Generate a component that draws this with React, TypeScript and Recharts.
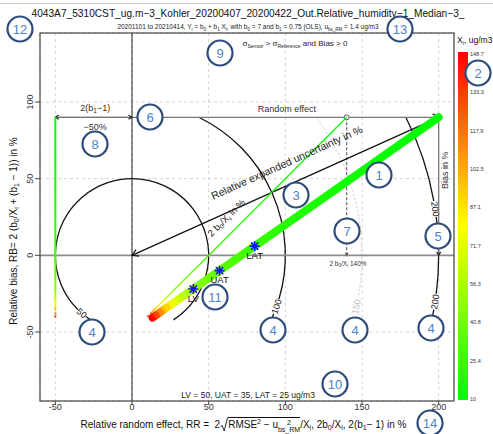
import React from 'react'
import {
  ScatterChart,
  Scatter,
  XAxis,
  YAxis,
  CartesianGrid,
  ReferenceLine,
  ReferenceArea,
  ReferenceDot,
} from 'recharts'

const W = 493
const H = 434
const FONT = '"Liberation Sans", Arial, Helvetica, sans-serif'

// points along the fitted relation Yi = 7 + 0.75 Xi
const XI = [10, 12, 15, 20, 25, 30, 40, 50, 60, 75, 90, 110, 130, 148.7]
const RR = [200, 166.7, 133.3, 100, 80, 66.7, 50, 40, 33.3, 26.7, 22.2, 18.2, 15.4, 13.4]
const RB = [90, 66.7, 43.3, 20, 6, -3.3, -15, -22, -26.7, -31.3, -34.4, -37.3, -39.2, -40.6]
const B0_TERM = [140, 116.7, 93.3, 70, 56, 46.7, 35, 28, 23.3, 18.7, 15.6, 12.7, 10.8, 9.4]
const B1_TERM = -50

// limit values LV / UAT / LAT
const LIMIT_NAMES = ['LV', 'UAT', 'LAT']
const LIMIT_RR = [40, 57.1, 80]
const LIMIT_RB = [-22, -10, 6]

const X_TICKS = [-50, 0, 50, 100, 150, 200]
const Y_TICKS = [-50, 0, 50, 100]
const XI_TICKS = [148.7, 133.3, 117.9, 102.5, 87.1, 71.7, 56.3, 40.8, 25.4, 10]

// contour circles of the expanded uncertainty, drawn pieces (deg) and label spots (deg)
const CONTOUR_LEVELS = [50, 100, 150, 200]
const CONTOUR_ARCS = [
  [[-57.3, 225], [233, 237.3]],
  [[-16.6, 64.2], [-24.8, -22.4]],
  [[-10, 36.9]],
  [[10.2, 26.7], [-7.2, 7.2], [-12.1, -10.2]],
]
const CONTOUR_LABEL_ANGLES = [[229], [-19.5], [-12.9], [8.7, -8.7]]

const XI_MIN = XI_TICKS[XI_TICKS.length - 1]
const XI_MAX = XI_TICKS[0]

function xiColor(xi: number): string {
  const t = Math.min(1, Math.max(0, (xi - XI_MIN) / (XI_MAX - XI_MIN)))
  let r = 255
  let g = 255
  if (t < 0.5) r = Math.round(510 * t)
  else g = Math.round(255 - 510 * (t - 0.5))
  return `rgb(${r},${g},0)`
}

const XI_COLORS = XI.map(xiColor)
const mainData = XI.map((xi, i) => ({ x: RR[i], y: RB[i], xi }))
const offsetData = XI.map((xi, i) => ({ x: B0_TERM[i], y: RB[i], xi }))
const slopeData = XI.map((xi, i) => ({ x: B1_TERM, y: RB[i], xi }))
const limitData = LIMIT_NAMES.map((name, i) => ({ x: LIMIT_RR[i], y: LIMIT_RB[i], name }))

function GradientLine(props: any) {
  const { points, colors, width, dashFrom, uid } = props
  if (!points || points.length < 2) return null
  return (
    <g>
      {points.slice(0, -1).map((a: any, i: number) => {
        const b = points[i + 1]
        const id = `${uid}-${i}`
        const dashed = dashFrom != null && i >= dashFrom
        return (
          <g key={i}>
            <defs>
              <linearGradient id={id} gradientUnits="userSpaceOnUse" x1={a.x} y1={a.y} x2={b.x} y2={b.y}>
                <stop offset="0" stopColor={colors[i]} />
                <stop offset="1" stopColor={colors[i + 1]} />
              </linearGradient>
            </defs>
            <line
              x1={a.x}
              y1={a.y}
              x2={b.x}
              y2={b.y}
              stroke={`url(#${id})`}
              strokeWidth={width}
              strokeLinecap={dashed ? 'butt' : 'round'}
              strokeDasharray={dashed ? '2 2' : undefined}
            />
          </g>
        )
      })}
    </g>
  )
}

const Empty = () => <g />

function LimitStar(p: any) {
  const { cx, cy } = p
  const name = p.payload?.name ?? p.name
  const s = 5
  const d = s * 0.72
  return (
    <g>
      <path
        d={`M${cx - s},${cy} H${cx + s} M${cx},${cy - s} V${cy + s} M${cx - d},${cy - d} L${cx + d},${cy + d} M${cx - d},${cy + d} L${cx + d},${cy - d}`}
        stroke="#1414e6"
        strokeWidth={1.6}
      />
      <text x={cx} y={cy + 12.5} textAnchor="middle" fontSize={9.5} fill="#111" fontFamily={FONT}>
        {name}
      </text>
    </g>
  )
}

function headPath(x1: number, y1: number, x2: number, y2: number, len: number) {
  const a = Math.atan2(y2 - y1, x2 - x1)
  const s = Math.PI / 6
  const p1 = `${x2 - len * Math.cos(a - s)},${y2 - len * Math.sin(a - s)}`
  const p2 = `${x2 - len * Math.cos(a + s)},${y2 - len * Math.sin(a + s)}`
  return `M${p1} L${x2},${y2} L${p2}`
}

interface ArrowOpts {
  stroke: string
  width: number
  dash?: string
  head?: number
  start?: boolean
  end?: boolean
  headColor?: string
}

const arrowShape = (o: ArrowOpts) => (p: any) => {
  const { x1, y1, x2, y2 } = p
  const hc = o.headColor || o.stroke
  return (
    <g>
      <line x1={x1} y1={y1} x2={x2} y2={y2} stroke={o.stroke} strokeWidth={o.width} strokeDasharray={o.dash} />
      {o.end && <path d={headPath(x1, y1, x2, y2, o.head || 6)} fill="none" stroke={hc} strokeWidth={1.2} />}
      {o.start && <path d={headPath(x2, y2, x1, y1, o.head || 6)} fill="none" stroke={hc} strokeWidth={1.2} />}
    </g>
  )
}

const contourShape = (k: number) => (p: any) => {
  const rx = p.width / 2
  const ry = p.height / 2
  const cx = p.x + rx
  const cy = p.y + ry
  const pt = (deg: number) => {
    const r = (deg * Math.PI) / 180
    return [cx + rx * Math.cos(r), cy - ry * Math.sin(r)]
  }
  const faint = CONTOUR_LEVELS[k] === 150
  const color = faint ? '#c8c8c8' : '#111'
  return (
    <g>
      {CONTOUR_ARCS[k].map(([a0, a1], j) => {
        const [x0, y0] = pt(a0)
        const [xe, ye] = pt(a1)
        const large = a1 - a0 > 180 ? 1 : 0
        return (
          <path
            key={j}
            d={`M${x0},${y0} A${rx},${ry} 0 ${large} 0 ${xe},${ye}`}
            fill="none"
            stroke={color}
            strokeWidth={faint ? 1 : 1.3}
            strokeDasharray={faint ? '2 2' : undefined}
          />
        )
      })}
      {CONTOUR_LABEL_ANGLES[k].map((a, j) => {
        const [lx, ly] = pt(a)
        let rot = -(a + 90)
        while (rot <= -180) rot += 360
        while (rot > 180) rot -= 360
        if (rot < -90) rot += 180
        if (rot > 90) rot -= 180
        return (
          <text
            key={'l' + j}
            x={lx}
            y={ly}
            dy="0.35em"
            transform={`rotate(${rot},${lx},${ly})`}
            textAnchor="middle"
            fontSize={9}
            fill={faint ? '#bdbdbd' : '#111'}
            fontFamily={FONT}
          >
            {CONTOUR_LEVELS[k]}
          </text>
        )
      })}
    </g>
  )
}

function tspans(parts: [string, boolean][], subSize: number, shift: number) {
  let cur = false
  return parts.map(([t, s], i) => {
    const dy = s === cur ? 0 : s ? shift : -shift
    cur = s
    return (
      <tspan key={i} dy={dy || undefined} fontSize={s ? subSize : undefined}>
        {t}
      </tspan>
    )
  })
}

function note(key: string, x: number, y: number, content: React.ReactNode, size: number, rot = 0, fill = '#222') {
  return (
    <ReferenceDot
      key={key}
      x={x}
      y={y}
      r={0}
      shape={(p: any) => (
        <text
          x={p.cx}
          y={p.cy}
          dy="0.35em"
          textAnchor="middle"
          fontSize={size}
          fill={fill}
          fontFamily={FONT}
          transform={rot ? `rotate(${rot},${p.cx},${p.cy})` : undefined}
        >
          {content}
        </text>
      )}
    />
  )
}

const XTick = (p: any) => (
  <text x={p.x} y={p.y + 2.5} textAnchor="middle" fontSize={9} fill="#333" fontFamily={FONT}>
    {p.payload.value}
  </text>
)

const YTick = (p: any) => (
  <text
    x={p.x}
    y={p.y}
    transform={`rotate(-90,${p.x},${p.y})`}
    textAnchor="middle"
    fontSize={9}
    fill="#333"
    fontFamily={FONT}
  >
    {p.payload.value}
  </text>
)

const CALLOUTS: [string, number, number][] = [
  ['1', 379, 175], ['2', 478, 73], ['3', 296, 195], ['4', 92, 332], ['4', 273, 330],
  ['4', 355, 330], ['4', 431, 328], ['5', 438, 236], ['6', 150, 117], ['7', 347, 231],
  ['8', 95, 144], ['9', 220, 53], ['10', 335, 384], ['11', 215, 297], ['12', 20, 29],
  ['13', 400, 29], ['14', 430, 423],
]

function Overlay() {
  const barTop = 52
  const barBottom = 400
  const step = (399 - 54) / (XI_TICKS.length - 1)
  return (
    <svg width={W} height={H} style={{ position: 'absolute', left: 0, top: 0, pointerEvents: 'none' }}>
      <defs>
        <linearGradient id="xi-bar" x1="0" y1="0" x2="0" y2="1">
          <stop offset="0" stopColor="#ff0000" />
          <stop offset="0.5" stopColor="#ffff00" />
          <stop offset="1" stopColor="#00ff00" />
        </linearGradient>
      </defs>
      <line x1={0} x2={W} y1={3.5} y2={3.5} stroke="#c8c8c8" />
      <rect x={40} y={33} width={414} height={368} fill="none" stroke="#444" strokeWidth={1.2} />
      <text x={248} y={16.5} textAnchor="middle" fontSize={10.5} fill="#111" fontFamily={FONT} textLength={433} lengthAdjust="spacingAndGlyphs">
        4043A7_5310CST_ug.m−3_Kohler_20200407_20200422_Out.Relative_humidity−1_Median−3_
      </text>
      <text x={248} y={29} textAnchor="middle" fontSize={6.5} fill="#222" fontFamily={FONT}>
        {tspans(
          [
            ['20201101 to 20210414, Y', false], ['i', true], [' = b', false], ['0', true], [' + b', false], ['1', true],
            [' X', false], ['i', true], [', with b', false], ['0', true], [' = 7 and b', false], ['1', true],
            [' = 0.75 (OLS), u', false], ['bs_RM', true], [' = 1.4 ug/m3', false],
          ],
          4.5,
          1.5,
        )}
      </text>
      <text x={457} y={43} fontSize={8.5} fill="#111" fontFamily={FONT}>
        {tspans([['X', false], ['i', true], [', ug/m3', false]], 6, 2)}
      </text>
      <rect x={458} y={barTop} width={10} height={barBottom - barTop} fill="url(#xi-bar)" />
      {XI_TICKS.map((v, i) => (
        <text key={v} x={470} y={54 + i * step + 2} fontSize={5.5} fill="#333" fontFamily={FONT}>
          {v}
        </text>
      ))}
      {CALLOUTS.map(([n, x, y], i) => (
        <g key={i}>
          <circle cx={x} cy={y} r={12.5} fill="#fff" stroke="#2d4c7c" strokeWidth={2.2} />
          <text x={x} y={y + 4.5} textAnchor="middle" fontSize={13} fill="#4d83c4" fontFamily={FONT}>
            {n}
          </text>
        </g>
      ))}
    </svg>
  )
}

const small: React.CSSProperties = { fontSize: 7, verticalAlign: '-2px' }

function XLabel() {
  return (
    <div
      style={{
        position: 'absolute', left: 0, width: 487, top: 415, textAlign: 'center', fontSize: 10,
        lineHeight: '14px', whiteSpace: 'nowrap', fontFamily: FONT, color: '#111',
      }}
    >
      Relative random effect, RR = &nbsp;2
      <svg width={8} height={15} style={{ verticalAlign: -4, overflow: 'visible' }}>
        <path d="M0.5,9.5 L2.2,8.5 L4.2,14 L7.6,0.5" fill="none" stroke="#111" strokeWidth={0.9} />
      </svg>
      <span style={{ borderTop: '1px solid #111', paddingTop: 1 }}>
        RMSE<span style={{ fontSize: 7, verticalAlign: '4px' }}>2</span> − u
        <span style={{ display: 'inline-flex', flexDirection: 'column', fontSize: 7, lineHeight: '7px', verticalAlign: '3px' }}>
          <span>2</span>
          <span>bs_RM</span>
        </span>
      </span>
      /X<span style={small}>i</span>, 2b<span style={small}>0</span>/X<span style={small}>i</span>, 2(b
      <span style={small}>1</span>− 1) in %
    </div>
  )
}

function YLabel() {
  return (
    <div
      style={{
        position: 'absolute', left: 15, top: 231, transform: 'translate(-50%,-50%) rotate(-90deg)',
        fontSize: 10, lineHeight: '13px', whiteSpace: 'nowrap', fontFamily: FONT, color: '#111',
      }}
    >
      Relative bias, RB= 2 (b<span style={small}>0</span>/X<span style={small}>i</span> + (b
      <span style={small}>1</span> − 1)) in %
    </div>
  )
}

export default function App() {
  return (
    <div style={{ position: 'absolute', left: 0, top: 0, width: W, height: H, background: '#fff', fontFamily: FONT }}>
      <ScatterChart width={W} height={H} margin={{ top: 33, right: 39, bottom: 0, left: 0 }}>
        <CartesianGrid stroke="#d4d4d4" strokeDasharray="3 3" />
        <XAxis
          type="number"
          dataKey="x"
          domain={[-60, 210]}
          ticks={X_TICKS}
          allowDataOverflow
          interval={0}
          height={33}
          axisLine={false}
          tickSize={4}
          tickMargin={2}
          tickLine={{ stroke: '#444' }}
          tick={XTick}
        />
        <YAxis
          type="number"
          dataKey="y"
          domain={[-95, 145]}
          ticks={Y_TICKS}
          allowDataOverflow
          interval={0}
          width={40}
          axisLine={false}
          tickSize={5}
          tickMargin={2}
          tickLine={{ stroke: '#444' }}
          tick={YTick}
        />

        {CONTOUR_LEVELS.map((r, k) => (
          <ReferenceArea key={'c' + r} x1={-r} x2={r} y1={-r} y2={r} ifOverflow="visible" shape={contourShape(k)} />
        ))}

        <ReferenceLine y={0} stroke="#8c8c8c" strokeWidth={1.8} />
        <ReferenceLine x={0} stroke="#222" strokeWidth={1} />
        <ReferenceLine
          segment={[{ x: -50, y: 90 }, { x: 200, y: 90 }]}
          shape={arrowShape({ stroke: '#777', width: 1.3, end: true, head: 7, headColor: '#111' })}
        />
        <ReferenceLine
          segment={[{ x: 0, y: 90 }, { x: -50, y: 90 }]}
          shape={arrowShape({ stroke: '#777', width: 1.3, start: true, end: true, head: 4, headColor: '#222' })}
        />
        <ReferenceLine
          segment={[{ x: 200, y: 90 }, { x: 200, y: 0 }]}
          shape={arrowShape({ stroke: '#777', width: 1.3, end: true, head: 4, headColor: '#222' })}
        />
        <ReferenceLine
          segment={[{ x: 140, y: 90 }, { x: 140, y: 0 }]}
          shape={arrowShape({ stroke: '#666', width: 1.2, dash: '3 2', end: true, head: 3 })}
        />
        <ReferenceLine
          segment={[{ x: 200, y: 90 }, { x: 0, y: 0 }]}
          shape={arrowShape({ stroke: '#111', width: 1.2, end: true, head: 7 })}
        />
        <ReferenceDot x={140} y={90} r={2.5} fill="#fff" stroke="#555" strokeWidth={1} />

        <Scatter
          data={slopeData}
          isAnimationActive={false}
          shape={Empty}
          line={<GradientLine colors={XI_COLORS} width={2} uid="slope" dashFrom={10} />}
        />
        <Scatter
          data={offsetData}
          isAnimationActive={false}
          shape={Empty}
          line={<GradientLine colors={XI_COLORS} width={1.4} uid="offset" dashFrom={11} />}
        />
        <Scatter
          data={mainData}
          isAnimationActive={false}
          shape={Empty}
          line={<GradientLine colors={XI_COLORS} width={8} uid="main" />}
        />
        <Scatter data={limitData} isAnimationActive={false} shape={LimitStar} />

        {note('re', 101, 95.5, 'Random effect', 9, 0, '#333')}
        {note('b1', -24, 96.5, tspans([['2(b', false], ['1', true], ['−1)', false]], 6.5, 2), 9, 0, '#333')}
        {note('p50', -24, 83.7, '−50%', 9, 0, '#333')}
        {note('bias', 204, 55.5, 'Bias in %', 9, -90, '#333')}
        {note('reu', 101, 60.5, 'Relative expanded uncertainty in %', 10.5, -24.2, '#222')}
        {note('b0', 61.5, 24.5, tspans([['2 b', false], ['0', true], ['/X', false], ['i', true], [' in %', false]], 6.5, 2), 9.5, -45, '#222')}
        {note('b0v', 140.9, -5.4, tspans([['2 b', false], ['0', true], ['/X', false], ['i', true], [' 140%', false]], 4.5, 1.5), 6.5, 0, '#333')}
        {note(
          'sig',
          106.3,
          138.5,
          tspans([['σ', false], ['Sensor', true], ['  >  σ', false], ['Reference', true], ['  and  Bias > 0', false]], 5, 2),
          8,
          0,
          '#222',
        )}
        {note('lim', 75.7, -91.1, 'LV = 50, UAT = 35, LAT = 25 ug/m3', 8.5, 0, '#222')}
      </ScatterChart>
      <XLabel />
      <YLabel />
      <Overlay />
    </div>
  )
}
